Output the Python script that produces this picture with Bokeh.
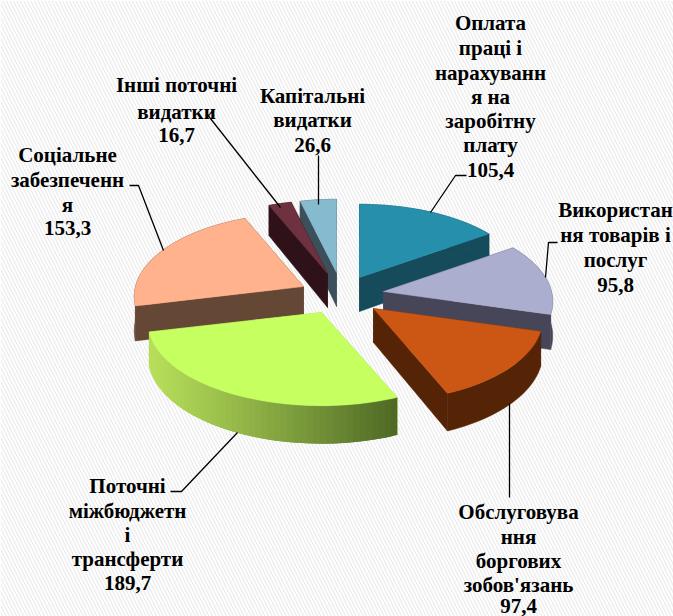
import numpy as np
from bokeh.plotting import figure
from bokeh.models import Range1d
from bokeh.core.properties import value
from bokeh.embed import file_html
from bokeh.resources import INLINE

categories = ["Оплата праці і нарахування на заробітну плату", "Використання товарів і послуг",
              "Обслуговування боргових зобов'язань", "Поточні міжбюджетні трансферти",
              "Соціальне забезпечення", "Інші поточні видатки", "Капітальні видатки"]
values = [105.4, 95.8, 97.4, 189.7, 153.3, 16.7, 26.6]
label_lines = [["Оплата", "праці і", "нарахуванн", "я на", "заробітну", "плату"],
               ["Використан", "ня товарів і", "послуг"],
               ["Обслуговува", "ння", "боргових", "зобов'язань"],
               ["Поточні", "міжбюджетн", "і", "трансферти"],
               ["Соціальне", "забезпеченн", "я"],
               ["Інші поточні", "видатки"],
               ["Капітальні", "видатки"]]
top_colors = ["#268fab", "#acaed0", "#cc5714", "#c6ff60", "#ffb28b", "#6d3140", "#86bacf"]
wall_colors = ["#154b5a", "#474658", "#552306", "#a9cf55", "#654735", "#2f1219", "#3b505b"]

# layout, in page pixels
apex_x = [359, 383, 373, 321, 303, 327, 336]
apex_y = [277, 291, 308, 312, 286, 273, 272]
x_scale = [1, 1, 1, 1.025, 1, 1, 1]
label_x = [490, 615, 518, 127, 67, 176, 312]
label_y = [[22, 47, 72, 96, 120, 144, 169], [209, 234, 259, 284], [511, 536, 560, 584, 605],
           [485, 510, 534, 558, 582], [154, 179, 204, 227], [84, 111, 134], [95, 119, 144]]
leaders = [[(430, 212), (455, 175), (466, 175)], [(545, 277), (548, 242), (557, 242)],
           [(509, 403), (509, 497)], [(237, 432), (181, 491), (170, 491)],
           [(163, 250), (138, 185), (129, 185)], [(280, 207), (206, 113)], [(318, 204), (318, 155)]]
A, B, PERSP = 168.0, 82.0, 0.12
H0, HK = 34.0, 4.0

p = figure(width=673, height=616, x_range=Range1d(0, 673), y_range=Range1d(616, 0),
           output_backend="svg", toolbar_location=None, min_border=0, outline_line_color=None)
p.axis.visible = False
p.grid.visible = False
p.quad(left=[0], right=[673], top=[0], bottom=[616], fill_color="white", line_color=None,
       hatch_pattern="left_diagonal_line", hatch_color="#eeeeee", hatch_scale=7, hatch_weight=1.5)


def project(theta, ax, ay, sx):
    u, v = np.sin(theta), np.cos(theta)
    w = 1 + PERSP * v
    return ax + sx * A * u / w, ay - B * v / w, H0 - HK * v


def mix(c1, c2, t):
    a = [int(c1[i:i + 2], 16) for i in (1, 3, 5)]
    b = [int(c2[i:i + 2], 16) for i in (1, 3, 5)]
    return "#%02x%02x%02x" % tuple(int(round(a[k] + (b[k] - a[k]) * t)) for k in range(3))


vals = np.array(values)
edges = np.concatenate([[0], np.cumsum(vals) / vals.sum() * 2 * np.pi])

for i in [6, 5, 0, 4, 1, 2, 3]:
    ax, ay = apex_x[i], apex_y[i]
    th = np.linspace(edges[i], edges[i + 1], max(12, int((edges[i + 1] - edges[i]) * 30)))
    x, y, h = project(th, ax, ay, x_scale[i])
    # the two walls of the wedge
    for k in (0, -1):
        p.patch([ax, x[k], x[k], ax], [ay, y[k], y[k] + h[k], ay + H0],
                fill_color=wall_colors[i], line_color=wall_colors[i], line_width=0.5)
    # outer rim: flat wedges as one outline, the green one in overlapping shaded strips
    if i == 3:
        xs, ys, cs = [], [], []
        for k in range(len(th) - 1):
            e = min(k + 2, len(th) - 1)
            xs.append([x[k], x[e], x[e], x[k]])
            ys.append([y[k], y[e], y[e] + h[e], y[k] + h[k]])
            t = (x[k] - x.min()) / (x.max() - x.min())
            cs.append(mix("#b8df5a", "#4f6a25", t ** 1.1))
        p.patches(xs, ys, fill_color=cs, line_color=None)
    else:
        p.patch(np.concatenate([x, x[::-1]]), np.concatenate([y, (y + h)[::-1]]),
                fill_color=wall_colors[i], line_color=wall_colors[i], line_width=0.5)
    # top
    p.patch(np.concatenate([[ax], x]), np.concatenate([[ay], y]),
            fill_color=top_colors[i], line_color=top_colors[i], line_width=0.5)

for pts in leaders:
    p.line([q[0] for q in pts], [q[1] for q in pts], line_color="black", line_width=1.3)

for i in range(len(values)):
    lines = label_lines[i] + [f"{values[i]:.1f}".replace(".", ",")]
    p.text([label_x[i]] * len(lines), label_y[i], text=lines, text_align="center",
           text_baseline="middle", text_font=value("Liberation Serif"), text_font_style="bold",
           text_font_size="21px", text_color="black")

open("out.html", "w").write(file_html(p, INLINE))
